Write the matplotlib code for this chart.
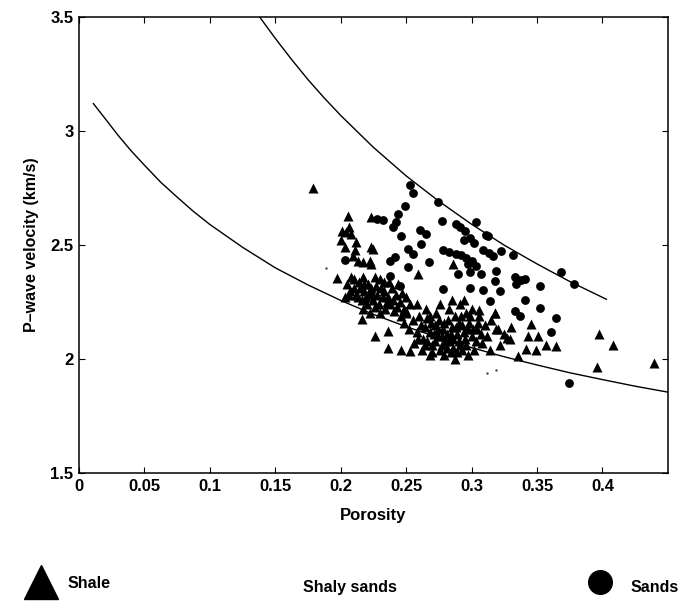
import matplotlib.pyplot as plt
from matplotlib.lines import Line2D

# model curves
lower_phi = [0.011, 0.02, 0.03, 0.04, 0.05, 0.0625, 0.075, 0.0875, 0.1, 0.125, 0.15,
             0.175, 0.2, 0.225, 0.25, 0.275, 0.3, 0.325, 0.35, 0.375, 0.4, 0.425, 0.45]
lower_vp = [3.12, 3.054, 2.98, 2.912, 2.85, 2.775, 2.71, 2.647, 2.59, 2.49, 2.40,
            2.325, 2.257, 2.196, 2.142, 2.094, 2.05, 2.010, 1.974, 1.940, 1.91, 1.881, 1.855]

upper_phi = [0.138, 0.15, 0.1625, 0.175, 0.1875, 0.2, 0.225, 0.25, 0.275, 0.3,
             0.325, 0.35, 0.375, 0.403]
upper_vp = [3.50, 3.406, 3.313, 3.225, 3.144, 3.068, 2.928, 2.803, 2.692, 2.591,
            2.499, 2.417, 2.340, 2.262]

# shale samples (triangles)
shale_phi = [
    0.179, 0.2056, 0.2063, 0.204, 0.2234, 0.212, 0.211, 0.2094, 0.2133, 0.2247,
    0.222, 0.2234, 0.217, 0.197, 0.259, 0.216, 0.226, 0.236, 0.236, 0.246,
    0.2527, 0.2857, 0.306, 0.3176, 0.3456, 0.343, 0.3506, 0.3417, 0.3494, 0.357,
    0.3646, 0.3354, 0.329, 0.3137, 0.3977, 0.4079, 0.3957, 0.439, 0.200, 0.203,
    0.208, 0.201, 0.2234, 0.319, 0.327,
    # upper-left cluster
    0.205, 0.210, 0.214, 0.218, 0.221, 0.224, 0.227, 0.230, 0.233, 0.236,
    0.239, 0.242, 0.245, 0.248, 0.212, 0.216, 0.220, 0.225, 0.229, 0.234,
    0.238, 0.241, 0.208, 0.217, 0.226, 0.232, 0.244, 0.250, 0.253, 0.222,
    0.230, 0.246, 0.215, 0.228, 0.237, 0.219, 0.207, 0.203,
    0.210, 0.213, 0.218, 0.223, 0.226, 0.231, 0.235, 0.240, 0.243, 0.247,
    0.221, 0.233, 0.217, 0.250, 0.206,
    # main cluster
    0.250, 0.255, 0.258, 0.261, 0.263, 0.266, 0.268, 0.270, 0.272, 0.274,
    0.276, 0.278, 0.280, 0.282, 0.284, 0.286, 0.288, 0.290, 0.292, 0.294,
    0.296, 0.298, 0.300, 0.302, 0.304, 0.306, 0.262, 0.268, 0.279, 0.289,
    0.297, 0.256, 0.273, 0.283, 0.291, 0.300, 0.310, 0.312, 0.308, 0.265,
    0.258, 0.252, 0.248, 0.276, 0.285, 0.294, 0.287, 0.271, 0.281, 0.293,
    0.275, 0.266, 0.315, 0.320, 0.325, 0.318, 0.330, 0.322,
    0.260, 0.264, 0.269, 0.272, 0.277, 0.279, 0.283, 0.285, 0.287, 0.289,
    0.291, 0.295, 0.297, 0.299, 0.303, 0.305, 0.270, 0.274, 0.281, 0.286,
    0.293, 0.259, 0.264, 0.277, 0.284, 0.301, 0.290, 0.296, 0.307, 0.268,
]
shale_vp = [
    2.752, 2.628, 2.58, 2.558, 2.624, 2.513, 2.477, 2.454, 2.432, 2.484,
    2.432, 2.417, 2.425, 2.354, 2.373, 2.174, 2.10, 2.122, 2.049, 2.041,
    2.034, 2.417, 2.215, 2.204, 2.152, 2.10, 2.10, 2.044, 2.041, 2.063,
    2.056, 2.012, 2.088, 2.041, 2.108, 2.063, 1.965, 1.982, 2.52, 2.49,
    2.55, 2.56, 2.49, 2.13, 2.093,
    2.33, 2.31, 2.34, 2.30, 2.33, 2.29, 2.32, 2.35, 2.30, 2.27,
    2.31, 2.28, 2.25, 2.22, 2.28, 2.26, 2.24, 2.26, 2.24, 2.22,
    2.24, 2.21, 2.36, 2.36, 2.36, 2.27, 2.33, 2.27, 2.24, 2.20,
    2.20, 2.19, 2.31, 2.28, 2.34, 2.27, 2.30, 2.27,
    2.35, 2.27, 2.33, 2.31, 2.23, 2.31, 2.25, 2.26, 2.23, 2.29,
    2.28, 2.34, 2.22, 2.21, 2.28,
    2.20, 2.17, 2.12, 2.15, 2.09, 2.18, 2.12, 2.06, 2.15, 2.10,
    2.04, 2.13, 2.08, 2.17, 2.11, 2.05, 2.14, 2.08, 2.19, 2.12,
    2.06, 2.16, 2.10, 2.04, 2.13, 2.19, 2.04, 2.02, 2.02, 2.03,
    2.02, 2.07, 2.20, 2.22, 2.24, 2.22, 2.15, 2.10, 2.07, 2.22,
    2.24, 2.13, 2.16, 2.24, 2.26, 2.26, 2.00, 2.11, 2.05, 2.15,
    2.17, 2.08, 2.17, 2.13, 2.11, 2.20, 2.14, 2.06,
    2.19, 2.14, 2.16, 2.08, 2.10, 2.16, 2.08, 2.14, 2.19, 2.11,
    2.06, 2.09, 2.13, 2.19, 2.08, 2.16, 2.03, 2.13, 2.11, 2.09,
    2.04, 2.09, 2.06, 2.06, 2.03, 2.13, 2.16, 2.20, 2.11, 2.19,
]

# sand samples (circles)
sand_phi = [
    0.2527, 0.255, 0.249, 0.2437, 0.2425, 0.24, 0.2463, 0.2603, 0.2654, 0.2616,
    0.2514, 0.2552, 0.2374, 0.2412, 0.2514, 0.2674, 0.203, 0.245, 0.2374, 0.274,
    0.228, 0.232, 0.2776, 0.2883, 0.291, 0.295, 0.299, 0.302, 0.294, 0.3036,
    0.3125, 0.278, 0.283, 0.288, 0.292, 0.296, 0.300, 0.303, 0.297, 0.3086,
    0.313, 0.316, 0.3227, 0.3316, 0.2896, 0.2985, 0.3074, 0.3188, 0.3176, 0.2985,
    0.3086, 0.3214, 0.3328, 0.3405, 0.334, 0.338, 0.352, 0.3405, 0.3137, 0.278,
    0.3328, 0.3366, 0.352, 0.3646, 0.3607, 0.368, 0.3786, 0.3743, 0.311,
]
sand_vp = [
    2.761, 2.727, 2.673, 2.634, 2.602, 2.58, 2.54, 2.565, 2.55, 2.506,
    2.484, 2.462, 2.432, 2.447, 2.403, 2.425, 2.436, 2.322, 2.366, 2.69,
    2.615, 2.61, 2.605, 2.594, 2.58, 2.56, 2.53, 2.51, 2.52, 2.599,
    2.54, 2.477, 2.47, 2.46, 2.455, 2.445, 2.43, 2.41, 2.415, 2.477,
    2.465, 2.452, 2.473, 2.457, 2.373, 2.38, 2.373, 2.388, 2.344, 2.31,
    2.304, 2.30, 2.358, 2.351, 2.329, 2.345, 2.319, 2.26, 2.255, 2.307,
    2.211, 2.189, 2.226, 2.181, 2.118, 2.38, 2.329, 1.894, 2.543,
]

# shaly sands (faint dots)
shaly_phi = [0.189, 0.312, 0.319]
shaly_vp = [2.398, 1.94, 1.95]

xticks = [0, 0.05, 0.1, 0.15, 0.2, 0.25, 0.3, 0.35, 0.4]
xticklabels = ['0', '0.05', '0.1', '0.15', '0.2', '0.25', '0.3', '0.35', '0.4']
yticks = [1.5, 2, 2.5, 3, 3.5]
yticklabels = ['1.5', '2', '2.5', '3', '3.5']

plt.rcParams['font.family'] = ['Liberation Sans', 'DejaVu Sans']

fig = plt.figure(figsize=(6.84, 6.05), dpi=100)
ax = fig.add_axes([0.1155, 0.218, 0.861, 0.754])

ax.plot(lower_phi, lower_vp, color='black', lw=1.0)
ax.plot(upper_phi, upper_vp, color='black', lw=1.0)

ax.scatter(shale_phi, shale_vp, marker='^', s=52, color='black', linewidths=0)
ax.scatter(sand_phi, sand_vp, marker='o', s=40, color='black', linewidths=0)
ax.scatter(shaly_phi, shaly_vp, marker='o', s=3, color='#444444', linewidths=0)

ax.set_xlim(0, 0.45)
ax.set_ylim(1.5, 3.5)
ax.set_xticks(xticks)
ax.set_xticklabels(xticklabels)
ax.set_yticks(yticks)
ax.set_yticklabels(yticklabels)
ax.tick_params(direction='in', length=4, width=0.8, top=True, right=True,
               labelsize=12, pad=4)
for lab in ax.get_xticklabels() + ax.get_yticklabels():
    lab.set_fontweight('bold')
for sp in ax.spines.values():
    sp.set_linewidth(1.1)

ax.set_xlabel('Porosity', fontsize=12, fontweight='bold', labelpad=10)
ax.set_ylabel('P\u2013wave velocity (km/s)', fontsize=11.5, fontweight='bold', labelpad=8)

# legend row along the bottom
leg_y = 1 - 584 / 605
fig.add_artist(Line2D([0.06], [leg_y + 0.003], marker='^', markersize=24, color='black',
                      lw=0, transform=fig.transFigure))
fig.add_artist(Line2D([0.877], [leg_y + 0.003], marker='o', markersize=17, color='black',
                      lw=0, transform=fig.transFigure))
fig.text(0.098, leg_y, 'Shale', fontsize=11.5, fontweight='bold', va='center', ha='left')
fig.text(0.512, leg_y - 0.005, 'Shaly sands', fontsize=11.5, fontweight='bold', va='center', ha='center')
fig.text(0.922, leg_y - 0.005, 'Sands', fontsize=11.5, fontweight='bold', va='center', ha='left')

fig.savefig('out.png', dpi=100)
